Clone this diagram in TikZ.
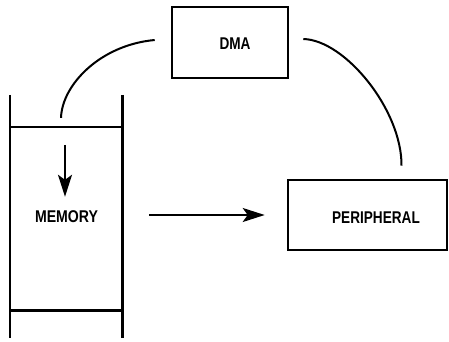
\documentclass[tikz,border=0pt]{standalone}
\usepackage{fontspec}
\setmainfont{Liberation Sans}
\usetikzlibrary{arrows.meta}
\begin{document}
\begin{tikzpicture}[x=1pt,y=-1pt,
  boxline/.style={line width=2.6pt},
  wire/.style={line width=2pt},
  arr/.style={line width=2pt,-{Stealth[length=22pt,width=14pt,inset=5pt]}},
  lbl/.style={font=\bfseries\fontsize{17}{17}\selectfont, inner sep=0pt}]
\useasboundingbox (0,0) rectangle (449,342);
% boxes
\node[draw,boxline,minimum width=116pt,minimum height=71pt,inner sep=0pt] (dma) at (230,42.5) {};
\node[draw,boxline,minimum width=159pt,minimum height=70pt,inner sep=0pt] (per) at (367.5,215) {};
\node[minimum width=112pt,minimum height=183pt,inner sep=0pt] (mem) at (66,218.5) {};
% memory frame
\draw[boxline] ([yshift=32pt]mem.north west) -- ([yshift=-28pt]mem.south west);
\draw[boxline] ([yshift=32pt]mem.north east) -- ([yshift=-28pt]mem.south east);
\draw[boxline] (mem.north west) -- (mem.north east);
\draw[boxline] (mem.south west) -- (mem.south east);
% labels
\node[lbl] (memt) at (66.5,217) {\scalebox{0.83}[1]{MEMORY}};
\node[lbl] (dmat) at (235,44) {\scalebox{0.8}[1]{DMA}};
\node[lbl] (pert) at (376,218) {\scalebox{0.8}[1]{PERIPHERAL}};
% connectors
\coordinate (ms) at ([xshift=-5pt,yshift=9pt]mem.north);
\coordinate (de) at ([xshift=-16pt,yshift=2.5pt]dma.west);
\coordinate (ds) at ([xshift=14pt,yshift=3.5pt]dma.east);
\coordinate (pe) at ([xshift=34pt,yshift=13pt]per.north);
\draw[wire] (ms) .. controls (62,85) and (100,45) .. (de);
\draw[wire] (ds) .. controls (345,40) and (402,110) .. (pe);
\draw[arr] ([xshift=27pt,yshift=3.5pt]mem.east) -- ([xshift=-22pt]per.west);
\draw[arr] ([xshift=-1pt,yshift=-18pt]mem.north) -- ([xshift=-1pt,yshift=-70pt]mem.north);
\end{tikzpicture}
\end{document}
